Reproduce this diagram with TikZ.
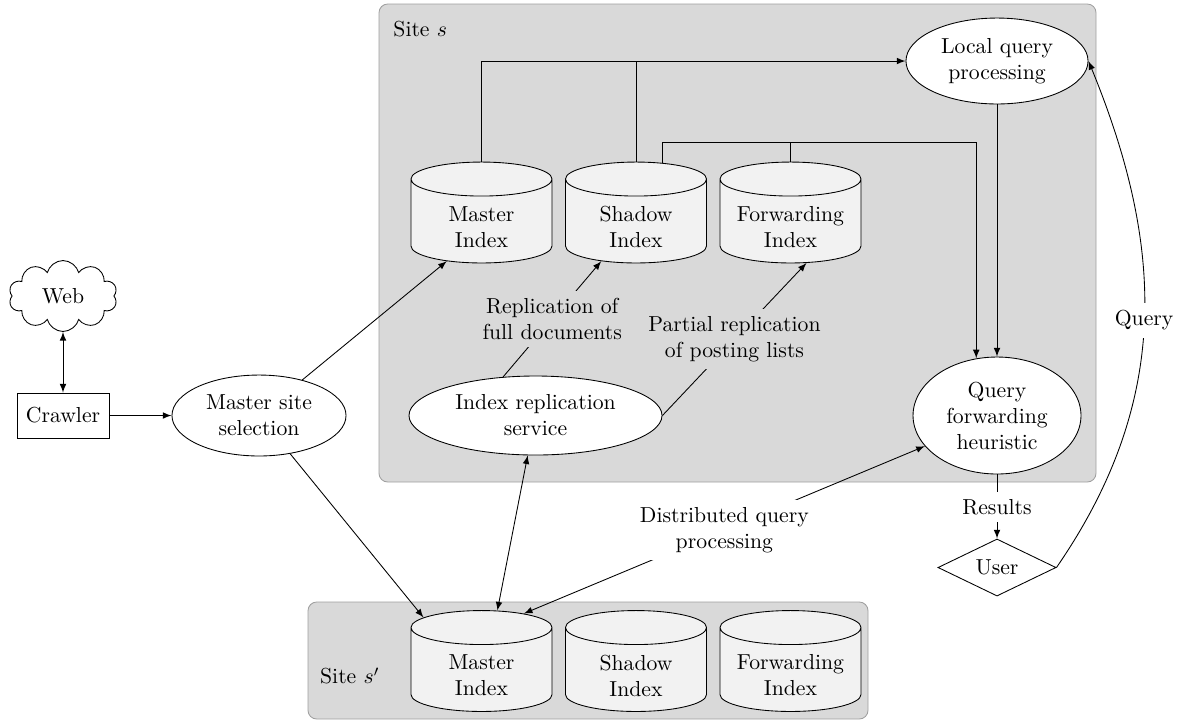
\documentclass[tikz,border=0pt]{standalone}
\usetikzlibrary{shapes.geometric,shapes.symbols,calc}
\definecolor{sitebg}{RGB}{217,217,217}
\definecolor{siteline}{RGB}{160,160,160}
\definecolor{cylfill}{RGB}{242,242,242}
\begin{document}
\begin{tikzpicture}[x=0.4608pt,y=-0.4608pt,>=latex,
  sitebox/.style={fill=sitebg,draw=siteline,rounded corners=4pt},
  cyl/.style={cylinder,shape border rotate=90,aspect=0.241,draw,fill=cylfill,
    text width=65pt,minimum width=65pt,minimum height=46.5pt,align=center,inner sep=0pt,anchor=shape center},
  cyltext/.style={align=center,inner sep=0pt},
  ell/.style={ellipse,draw,fill=white,align=center,inner sep=0pt},
  lbl/.style={align=center}]
\useasboundingbox (0,0) rectangle (1182,721);
% site boxes
\path[sitebox] (379,4) rectangle (1096,482);
\path[sitebox] (308,602) rectangle (868,719);
\node[inner sep=0pt,anchor=west] (sites) at (393,29) {Site $s$};
\node[inner sep=0pt] (sites2) at (350,676) {Site $s'$};
% cylinders
\node[cyl] (master1) at (481.5,212.5) {};
\node[cyl] (shadow1) at (636,212.5) {};
\node[cyl] (fwd1) at (790.5,212.5) {};
\node[cyl] (master2) at (481.5,661) {};
\node[cyl] (shadow2) at (636,661) {};
\node[cyl] (fwd2) at (790.5,661) {};
\node[cyltext] (master1t) at ([yshift=-6.7pt]master1.shape center) {Master\\Index};
\node[cyltext] (shadow1t) at ([yshift=-6.7pt]shadow1.shape center) {Shadow\\Index};
\node[cyltext] (fwd1t) at ([yshift=-6.7pt]fwd1.shape center) {Forwarding\\Index};
\node[cyltext] (master2t) at ([yshift=-6.7pt]master2.shape center) {Master\\Index};
\node[cyltext] (shadow2t) at ([yshift=-6.7pt]shadow2.shape center) {Shadow\\Index};
\node[cyltext] (fwd2t) at ([yshift=-6.7pt]fwd2.shape center) {Forwarding\\Index};
% other nodes
\node[cloud,cloud puffs=10,draw,fill=white,minimum width=50pt,minimum height=30pt,inner sep=0pt] (web) at (63,296) {Web};
\node[draw,minimum width=42.4pt,minimum height=20.7pt,inner sep=0pt] (crawler) at (63,415.5) {Crawler};
\node[ell,minimum width=80.2pt,minimum height=37.3pt] (mss) at (259,415.5) {Master site\\selection};
\node[ell,minimum width=116.6pt,minimum height=36.4pt] (irs) at (535.5,415.5) {Index replication\\service};
\node[ell,minimum width=83.9pt,minimum height=39.6pt] (lqp) at (997,61) {Local query\\processing};
\node[ell,minimum width=77.4pt,minimum height=53.9pt] (qfh) at (997,415.5) {Query\\forwarding\\heuristic};
\node[diamond,aspect=2,draw,fill=white,minimum width=54.4pt,minimum height=26.3pt,inner sep=0pt] (user) at (997,567.5) {User};
\node (res) at (997,507) {Results};
% connectors
\draw[->] (master1.90) |- (lqp.west);
\draw (shadow1.90) -- (shadow1.90 |- lqp.west);
\coordinate (bus2) at ($(fwd1.90)+(0,-19)$);
\draw[->] (shadow1.66) |- (bus2) -| (qfh.110);
\draw (fwd1.90) -- (bus2);
\draw[->] (lqp.south) -- (qfh.north);
\draw[->] (qfh) -- (res) -- (user);
\draw[<->] (web) -- (crawler);
\draw[->] (crawler) -- (mss);
\draw[->] (mss) -- (master1.229);
\draw[->] (mss) -- (master2.138);
\draw[->] (irs.130) -- node[lbl,fill=sitebg] (lblrep) {Replication of\\full documents} (shadow1.229);
\draw[->] (irs.east) -- node[lbl,fill=sitebg] (lblpart) {Partial replication\\of posting lists} (fwd1.291);
\draw[<->] (irs) -- (master2.75);
\draw[<->] (master2.53) -- node[lbl,fill=white] (lbldqp) {Distributed query\\processing} (qfh.203);
\draw[->] (user.east) .. controls (1172,400) and (1164,245) .. node[fill=white] (lblq) {Query} (lqp.east);
\end{tikzpicture}
\end{document}
